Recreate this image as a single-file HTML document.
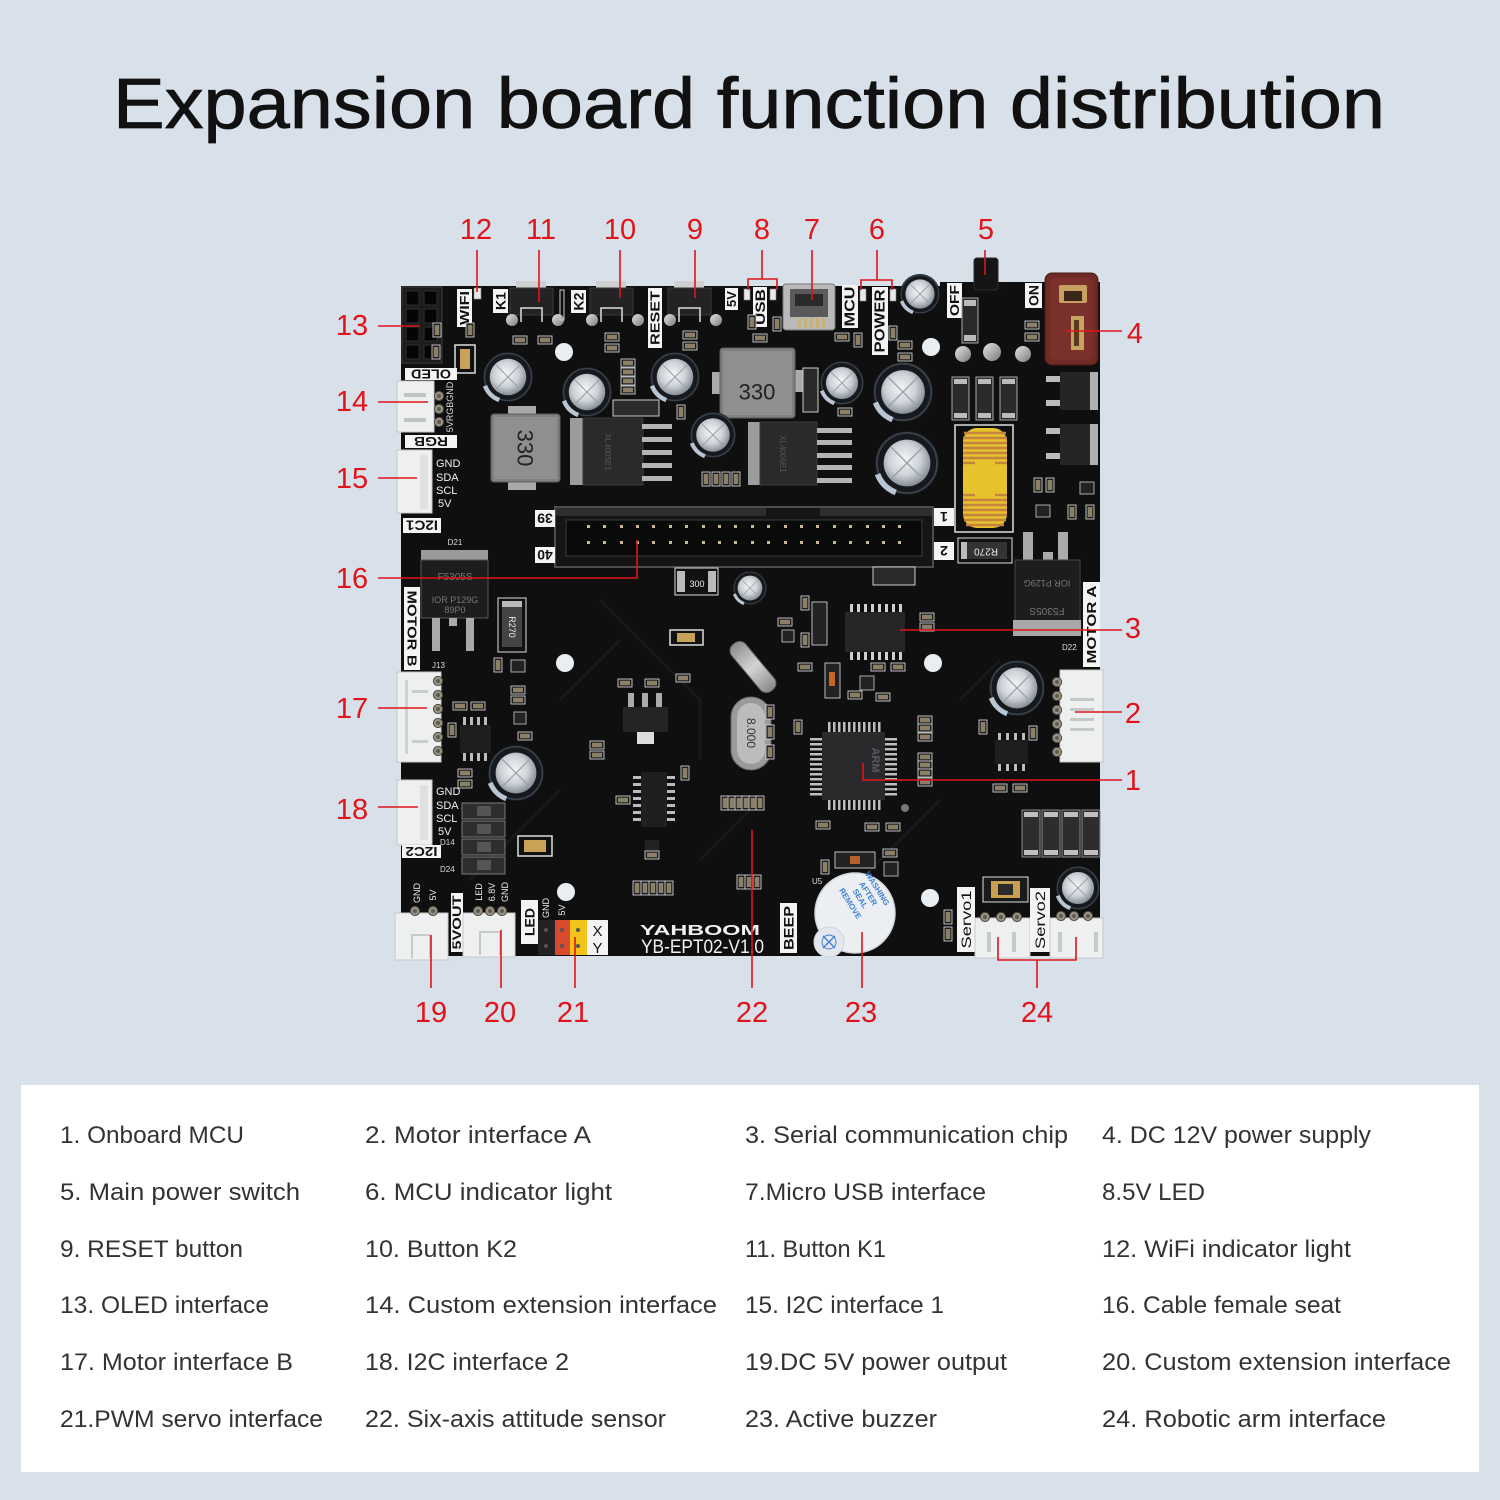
<!DOCTYPE html>
<html><head><meta charset="utf-8"><style>
html,body{margin:0;padding:0;background:#d8e0ea;}
svg{display:block;}
</style></head><body>
<svg width="1500" height="1500" viewBox="0 0 1500 1500" xmlns="http://www.w3.org/2000/svg" font-family="'Liberation Sans', 'DejaVu Sans', sans-serif">
<defs>
<radialGradient id="capg" cx="0.45" cy="0.42" r="0.62"><stop offset="0" stop-color="#f4f6f8"/><stop offset="0.55" stop-color="#cdd2d7"/><stop offset="1" stop-color="#7b838b"/></radialGradient>
<linearGradient id="silver" x1="0" y1="0" x2="1" y2="1"><stop offset="0" stop-color="#e2e2e2"/><stop offset="0.5" stop-color="#b0b0b0"/><stop offset="1" stop-color="#7a7a7a"/></linearGradient>
<linearGradient id="xtal" x1="0" y1="0" x2="1" y2="0"><stop offset="0" stop-color="#8c8c8c"/><stop offset="0.5" stop-color="#d4d4d4"/><stop offset="1" stop-color="#8a8a8a"/></linearGradient>
<g id="capU">
<circle r="10" fill="#16191d"/>
<circle r="9.4" fill="none" stroke="#39414a" stroke-width="0.6"/>
<circle r="7.3" fill="url(#capg)"/>
<path d="M-5,-5 L5,5 M5,-5 L-5,5" stroke="#9aa2aa" stroke-width="0.45"/>
<path d="M -9.2 3.5 A 9.8 9.8 0 0 0 -3.5 9.2" stroke="#b8c5d2" stroke-width="1.8" fill="none"/>
</g>
<g id="rh"><rect x="-7" y="-4" width="14" height="8" fill="#1c1c1c" stroke="#d0d0d0" stroke-width="0.9"/><rect x="-5" y="-2.3" width="10" height="4.6" fill="#8c7f68"/></g>
<g id="rv"><rect x="-4" y="-7" width="8" height="14" fill="#1c1c1c" stroke="#d0d0d0" stroke-width="0.9"/><rect x="-2.3" y="-5" width="4.6" height="10" fill="#8c7f68"/></g>
<g id="pin"><circle r="4.6" fill="#9a9384" stroke="#4a4a44" stroke-width="1"/><circle r="2" fill="#5e5a50"/></g>
</defs>

<rect width="1500" height="1500" fill="#d8e0ea"/>

<!-- Title -->
<text x="113" y="128" font-size="71" fill="#111" stroke="#111" stroke-width="0.8" textLength="1272" lengthAdjust="spacingAndGlyphs">Expansion board function distribution</text>

<!-- ===== BOARD ===== -->
<rect x="401" y="286" width="699" height="670" fill="#0f0f10"/>
<rect x="940" y="282" width="160" height="8" fill="#0f0f10"/>
<g stroke="#18191b" stroke-width="3" fill="none">
<path d="M600 600 L700 700 L700 760"/><path d="M470 880 L560 790"/><path d="M960 700 L1000 660"/>
<path d="M700 860 L760 800"/><path d="M860 880 L940 800"/><path d="M620 640 L560 700"/>
</g>

<!-- Header 13 -->
<rect x="402" y="287" width="40" height="76" fill="#1c1c1c" stroke="#3c3c3c"/>
<g fill="#050505" stroke="#2e2e2e">
<rect x="406" y="291" width="13" height="14"/><rect x="424" y="291" width="13" height="14"/>
<rect x="406" y="309" width="13" height="14"/><rect x="424" y="309" width="13" height="14"/>
<rect x="406" y="327" width="13" height="14"/><rect x="424" y="327" width="13" height="14"/>
<rect x="406" y="345" width="13" height="14"/><rect x="424" y="345" width="13" height="14"/>
</g>
<rect x="455" y="345" width="20" height="28" fill="none" stroke="#ddd" stroke-width="1.5"/>
<rect x="460" y="349" width="10" height="20" fill="#c8a256"/>

<!-- Top labels -->
<g fill="#f4f4f4">
<rect x="457" y="289" width="15" height="38"/><rect x="493" y="289" width="15" height="24"/>
<rect x="571" y="290" width="15" height="23"/><rect x="648" y="288" width="14" height="60"/>
<rect x="725" y="288" width="13" height="22"/><rect x="753" y="287" width="14" height="40"/>
<rect x="842" y="285" width="16" height="43"/><rect x="872" y="287" width="16" height="68"/>
<rect x="947" y="283" width="15" height="35"/><rect x="1025" y="283" width="17" height="25"/>
</g>
<g fill="#111" font-weight="bold" text-anchor="middle" dominant-baseline="central">
<text transform="translate(464.5,308) rotate(-90)" font-size="13" textLength="34" lengthAdjust="spacingAndGlyphs">WIFI</text>
<text transform="translate(500.5,301) rotate(-90)" font-size="14">K1</text>
<text transform="translate(578.5,301.5) rotate(-90)" font-size="14">K2</text>
<text transform="translate(655,318) rotate(-90)" font-size="13" textLength="54" lengthAdjust="spacingAndGlyphs">RESET</text>
<text transform="translate(731.5,299) rotate(-90)" font-size="13">5V</text>
<text transform="translate(760,307) rotate(-90)" font-size="14" textLength="36" lengthAdjust="spacingAndGlyphs">USB</text>
<text transform="translate(850,306.5) rotate(-90)" font-size="15" textLength="40" lengthAdjust="spacingAndGlyphs">MCU</text>
<text transform="translate(880,321) rotate(-90)" font-size="15" textLength="63" lengthAdjust="spacingAndGlyphs">POWER</text>
<text transform="translate(954.5,300.5) rotate(-90)" font-size="13" textLength="31" lengthAdjust="spacingAndGlyphs">OFF</text>
<text transform="translate(1033.5,295.5) rotate(-90)" font-size="14">ON</text>
</g>

<!-- LEDs -->
<g fill="#e8e8e8" stroke="#888" stroke-width="0.6">
<rect x="474" y="288" width="7" height="11"/><rect x="744" y="289" width="6" height="11"/>
<rect x="770" y="289" width="6" height="11"/><rect x="860" y="289" width="6" height="12"/>
<rect x="890" y="289" width="6" height="12"/>
</g>

<!-- Buttons -->
<g>
<rect x="516" y="281" width="30" height="8" rx="2" fill="#cfcfcf"/>
<rect x="510" y="288" width="43" height="27" fill="#232323" stroke="#3a3a3a"/>
<path d="M521 322 V308 H542 V322" fill="none" stroke="#ddd" stroke-width="1.5"/>
<circle cx="512" cy="320" r="6" fill="url(#silver)"/><circle cx="558" cy="320" r="6" fill="url(#silver)"/>
<rect x="560" y="290" width="4" height="30" fill="none" stroke="#ccc"/>
<rect x="596" y="281" width="30" height="8" rx="2" fill="#cfcfcf"/>
<rect x="590" y="288" width="43" height="27" fill="#232323" stroke="#3a3a3a"/>
<path d="M601 322 V308 H622 V322" fill="none" stroke="#ddd" stroke-width="1.5"/>
<circle cx="592" cy="320" r="6" fill="url(#silver)"/><circle cx="638" cy="320" r="6" fill="url(#silver)"/>
<rect x="674" y="281" width="30" height="8" rx="2" fill="#cfcfcf"/>
<rect x="668" y="288" width="43" height="27" fill="#232323" stroke="#3a3a3a"/>
<path d="M679 322 V308 H700 V322" fill="none" stroke="#ddd" stroke-width="1.5"/>
<circle cx="670" cy="320" r="6" fill="url(#silver)"/><circle cx="716" cy="320" r="6" fill="url(#silver)"/>
</g>

<!-- Micro USB -->
<rect x="783" y="284" width="52" height="46" rx="3" fill="#b9b9b9" stroke="#777"/>
<rect x="790" y="289" width="38" height="28" fill="#5a5a5a"/>
<rect x="795" y="294" width="28" height="12" fill="#2a2a2a"/>
<g fill="#c7b27a"><rect x="798" y="318" width="3" height="10"/><rect x="804" y="318" width="3" height="10"/><rect x="810" y="318" width="3" height="10"/><rect x="816" y="318" width="3" height="10"/><rect x="822" y="318" width="3" height="10"/></g>

<!-- Switch 5 -->
<rect x="966" y="283" width="40" height="10" fill="#111"/>
<rect x="974" y="258" width="24" height="32" rx="3" fill="#151515" stroke="#2a2a2a"/>

<!-- Red connector 4 -->
<rect x="1045" y="273" width="53" height="92" rx="7" fill="#6f2a25" stroke="#4a1a18"/>
<rect x="1050" y="278" width="43" height="82" rx="5" fill="#7b312b"/>
<rect x="1059" y="285" width="28" height="18" rx="2" fill="#c8a062"/>
<rect x="1064" y="291" width="18" height="10" fill="#3b2418"/>
<rect x="1071" y="316" width="13" height="34" fill="#c7a35f"/>
<rect x="1074" y="320" width="5" height="26" fill="#5a3a20"/>

<!-- D1, R1 R2 -->
<rect x="962" y="298" width="16" height="45" fill="#2a2a2a" stroke="#aaa"/>
<rect x="964" y="300" width="12" height="6" fill="#bbb"/><rect x="964" y="335" width="12" height="6" fill="#bbb"/>
<use href="#rh" x="1032" y="325"/><use href="#rh" x="1032" y="337"/>

<!-- holes / silver vias -->
<g fill="#e9eef3"><circle cx="564" cy="352" r="9"/><circle cx="931" cy="347" r="9"/><circle cx="565" cy="663" r="9"/><circle cx="933" cy="663" r="9"/><circle cx="566" cy="892" r="9"/><circle cx="930" cy="898" r="9"/></g>
<g fill="url(#silver)"><circle cx="963" cy="354" r="8"/><circle cx="992" cy="352" r="9"/><circle cx="1023" cy="354" r="8"/></g>

<!-- Left side connectors & labels -->
<rect x="405" y="368" width="52" height="12" fill="#f4f4f4"/>
<rect x="405" y="435" width="52" height="13" fill="#f4f4f4"/>
<rect x="403" y="518" width="38" height="15" fill="#f4f4f4"/>
<g fill="#111" font-weight="bold" text-anchor="middle" dominant-baseline="central">
<text transform="translate(431,374) rotate(180)" font-size="13" textLength="40" lengthAdjust="spacingAndGlyphs">OLED</text>
<text transform="translate(431,441.5) rotate(180)" font-size="13" textLength="34" lengthAdjust="spacingAndGlyphs">RGB</text>
<text transform="translate(422,525.5) rotate(180)" font-size="14" textLength="32" lengthAdjust="spacingAndGlyphs">I2C1</text>
</g>
<rect x="397" y="381" width="37" height="51" fill="#eef0ef" stroke="#c6c9c8"/>
<rect x="404" y="393" width="22" height="4" fill="#bfc3c2"/><rect x="404" y="418" width="22" height="4" fill="#bfc3c2"/>
<use href="#pin" x="439" y="396"/><use href="#pin" x="439" y="409"/><use href="#pin" x="439" y="422"/>
<text transform="translate(450,407) rotate(-90)" font-size="9" fill="#ddd" text-anchor="middle" dominant-baseline="central">5VRGBGND</text>

<rect x="397" y="450" width="35" height="63" fill="#eef0ef" stroke="#c6c9c8"/>
<rect x="420" y="455" width="8" height="54" fill="#dfe2e1"/>
<g fill="#f0f0f0" font-size="11"><text x="436" y="467">GND</text><text x="436" y="481">SDA</text><text x="436" y="494">SCL</text><text x="438" y="507">5V</text></g>

<!-- Header 16 -->
<rect x="555" y="507" width="378" height="60" fill="#151515" stroke="#4d4d4d" stroke-width="2"/>
<rect x="556" y="508" width="210" height="8" fill="#2e2e2e"/><rect x="820" y="508" width="112" height="8" fill="#2e2e2e"/>
<rect x="566" y="520" width="356" height="36" fill="#0a0a0a" stroke="#3a3a3a"/>
<g fill="#c9b98f">
<rect x="587" y="525" width="3" height="3"/><rect x="603" y="525" width="3" height="3"/><rect x="620" y="525" width="3" height="3"/><rect x="636" y="525" width="3" height="3"/><rect x="652" y="525" width="3" height="3"/><rect x="669" y="525" width="3" height="3"/><rect x="685" y="525" width="3" height="3"/><rect x="702" y="525" width="3" height="3"/><rect x="718" y="525" width="3" height="3"/><rect x="734" y="525" width="3" height="3"/><rect x="751" y="525" width="3" height="3"/><rect x="767" y="525" width="3" height="3"/><rect x="784" y="525" width="3" height="3"/><rect x="800" y="525" width="3" height="3"/><rect x="816" y="525" width="3" height="3"/><rect x="833" y="525" width="3" height="3"/><rect x="849" y="525" width="3" height="3"/><rect x="866" y="525" width="3" height="3"/><rect x="882" y="525" width="3" height="3"/><rect x="898" y="525" width="3" height="3"/>
<rect x="587" y="541" width="3" height="3"/><rect x="603" y="541" width="3" height="3"/><rect x="620" y="541" width="3" height="3"/><rect x="636" y="541" width="3" height="3"/><rect x="652" y="541" width="3" height="3"/><rect x="669" y="541" width="3" height="3"/><rect x="685" y="541" width="3" height="3"/><rect x="702" y="541" width="3" height="3"/><rect x="718" y="541" width="3" height="3"/><rect x="734" y="541" width="3" height="3"/><rect x="751" y="541" width="3" height="3"/><rect x="767" y="541" width="3" height="3"/><rect x="784" y="541" width="3" height="3"/><rect x="800" y="541" width="3" height="3"/><rect x="816" y="541" width="3" height="3"/><rect x="833" y="541" width="3" height="3"/><rect x="849" y="541" width="3" height="3"/><rect x="866" y="541" width="3" height="3"/><rect x="882" y="541" width="3" height="3"/><rect x="898" y="541" width="3" height="3"/>
</g>
<g fill="#f4f4f4"><rect x="535" y="510" width="20" height="17"/><rect x="535" y="547" width="20" height="16"/><rect x="934" y="508" width="20" height="18"/><rect x="934" y="542" width="20" height="18"/></g>
<g fill="#111" font-weight="bold" text-anchor="middle" dominant-baseline="central" font-size="14">
<text transform="translate(545,518.5) rotate(180)">39</text><text transform="translate(545,555) rotate(180)">40</text>
<text transform="translate(944,517) rotate(180)">1</text><text transform="translate(944,551) rotate(180)">2</text>
</g>

<!-- Inductors -->
<rect x="508" y="406" width="28" height="10" fill="#aaa"/><rect x="508" y="480" width="28" height="10" fill="#aaa"/>
<rect x="491" y="414" width="69" height="68" rx="3" fill="#7f7f7f" stroke="#5e5e5e"/>
<rect x="494" y="417" width="63" height="62" fill="#8f8f8f"/>
<text transform="translate(525,448) rotate(90)" font-size="22" fill="#222" text-anchor="middle" dominant-baseline="central">330</text>
<rect x="712" y="372" width="10" height="22" fill="#aaa"/><rect x="794" y="370" width="10" height="22" fill="#aaa"/>
<rect x="720" y="348" width="75" height="70" rx="3" fill="#7f7f7f" stroke="#5e5e5e"/>
<rect x="723" y="351" width="69" height="64" fill="#8f8f8f"/>
<text x="757" y="392" font-size="22" fill="#222" text-anchor="middle" dominant-baseline="central">330</text>

<!-- XL4005 chips -->
<rect x="613" y="400" width="46" height="16" fill="#2c2c2c" stroke="#ccc"/>
<rect x="570" y="418" width="14" height="67" fill="#9c9c9c"/>
<rect x="583" y="418" width="60" height="67" fill="#2a2a2a" stroke="#3a3a3a"/>
<g fill="#b4b4b4"><rect x="642" y="424" width="30" height="5"/><rect x="642" y="437" width="30" height="5"/><rect x="642" y="450" width="30" height="5"/><rect x="642" y="463" width="30" height="5"/><rect x="642" y="476" width="30" height="5"/></g>
<text transform="translate(605,452) rotate(90)" font-size="8" fill="#555" text-anchor="middle">XL4005E1</text>
<rect x="748" y="422" width="13" height="63" fill="#9c9c9c"/>
<rect x="760" y="422" width="57" height="63" fill="#2a2a2a" stroke="#3a3a3a"/>
<g fill="#b4b4b4"><rect x="817" y="428" width="35" height="5"/><rect x="817" y="440" width="35" height="5"/><rect x="817" y="453" width="35" height="5"/><rect x="817" y="465" width="35" height="5"/><rect x="817" y="478" width="35" height="5"/></g>
<text transform="translate(780,454) rotate(90)" font-size="8" fill="#555" text-anchor="middle">XL4005E1</text>

<!-- D6 -->
<rect x="803" y="368" width="15" height="44" fill="#2a2a2a" stroke="#ccc"/>

<!-- Diodes D37 D34 D31 -->
<g fill="#2b2b2b" stroke="#aaa"><rect x="952" y="377" width="17" height="43"/><rect x="976" y="377" width="17" height="43"/><rect x="1000" y="377" width="17" height="43"/></g>
<g fill="#bbb"><rect x="954" y="379" width="13" height="5"/><rect x="978" y="379" width="13" height="5"/><rect x="1002" y="379" width="13" height="5"/><rect x="954" y="413" width="13" height="5"/><rect x="978" y="413" width="13" height="5"/><rect x="1002" y="413" width="13" height="5"/></g>

<!-- MOSFETs -->
<rect x="1046" y="376" width="14" height="6" fill="#bbb"/><rect x="1046" y="400" width="14" height="6" fill="#bbb"/>
<rect x="1060" y="372" width="31" height="38" fill="#252525"/><rect x="1090" y="372" width="8" height="38" fill="#b0b0b0"/>
<rect x="1046" y="428" width="14" height="6" fill="#bbb"/><rect x="1046" y="453" width="14" height="6" fill="#bbb"/>
<rect x="1060" y="424" width="31" height="41" fill="#252525"/><rect x="1090" y="424" width="8" height="41" fill="#b0b0b0"/>

<!-- Toroid -->
<rect x="955" y="425" width="58" height="107" fill="none" stroke="#ddd" stroke-width="1.5"/>
<rect x="963" y="428" width="44" height="100" rx="14" fill="#e6c22c"/>
<g stroke="#c4843e" stroke-width="2.4">
<line x1="964" y1="433" x2="1006" y2="433"/><line x1="963" y1="438" x2="1007" y2="438"/><line x1="963" y1="443" x2="1007" y2="443"/><line x1="963" y1="448" x2="1007" y2="448"/><line x1="963" y1="453" x2="1007" y2="453"/><line x1="963" y1="458" x2="1007" y2="458"/>
<line x1="963" y1="463" x2="975" y2="463"/><line x1="995" y1="463" x2="1007" y2="463"/>
<line x1="963" y1="495" x2="975" y2="495"/><line x1="995" y1="495" x2="1007" y2="495"/>
<line x1="963" y1="500" x2="1007" y2="500"/><line x1="963" y1="505" x2="1007" y2="505"/><line x1="963" y1="510" x2="1007" y2="510"/><line x1="963" y1="515" x2="1007" y2="515"/><line x1="964" y1="520" x2="1006" y2="520"/><line x1="966" y1="525" x2="1004" y2="525"/>
</g>

<!-- R270 right, D4 -->
<rect x="958" y="538" width="54" height="25" fill="#111" stroke="#ddd"/>
<rect x="963" y="542" width="44" height="17" fill="#333"/><rect x="961" y="542" width="6" height="17" fill="#bbb"/>
<text transform="translate(986,551) rotate(180)" font-size="10" fill="#eee" text-anchor="middle" dominant-baseline="central">R270</text>
<rect x="873" y="567" width="42" height="18" fill="#2a2a2a" stroke="#ccc"/>

<!-- D21 left -->
<rect x="421" y="550" width="67" height="12" fill="#9a9a9a"/>
<rect x="421" y="560" width="67" height="58" fill="#1d1d1d" stroke="#555"/>
<text x="455" y="580" font-size="10" fill="#777" text-anchor="middle">F5305S</text>
<text x="455" y="603" font-size="9" fill="#777" text-anchor="middle">IOR P129G</text>
<text x="455" y="613" font-size="9" fill="#777" text-anchor="middle">89P0</text>
<rect x="432" y="618" width="8" height="33" fill="#a9a9a9"/><rect x="466" y="618" width="8" height="33" fill="#a9a9a9"/><rect x="449" y="618" width="8" height="8" fill="#a9a9a9"/>
<text x="455" y="545" font-size="8" fill="#ddd" text-anchor="middle">D21</text>

<!-- MOTOR B -->
<rect x="404" y="587" width="16" height="83" fill="#f4f4f4"/>
<text transform="translate(412,628.5) rotate(90)" font-size="13" font-weight="bold" fill="#111" text-anchor="middle" dominant-baseline="central" textLength="76" lengthAdjust="spacingAndGlyphs">MOTOR B</text>

<!-- R270 left -->
<rect x="498" y="598" width="28" height="54" fill="#111" stroke="#ddd"/>
<rect x="502" y="603" width="20" height="44" fill="#444"/><rect x="502" y="601" width="20" height="6" fill="#bbb"/>
<text transform="translate(512,627) rotate(90)" font-size="9" fill="#eee" text-anchor="middle" dominant-baseline="central">R270</text>

<!-- Connector 17 -->
<rect x="397" y="672" width="44" height="90" fill="#eef0ef" stroke="#c6c9c8"/>
<rect x="405" y="680" width="3" height="74" fill="#d0d4d3"/><rect x="412" y="690" width="16" height="3" fill="#c8cccb"/><rect x="412" y="740" width="16" height="3" fill="#c8cccb"/>
<use href="#pin" x="438" y="681"/><use href="#pin" x="438" y="695"/><use href="#pin" x="438" y="709"/><use href="#pin" x="438" y="723"/><use href="#pin" x="438" y="737"/><use href="#pin" x="438" y="751"/>
<text x="432" y="668" font-size="8" fill="#ddd">J13</text>

<!-- Connector 18 -->
<rect x="397" y="780" width="35" height="65" fill="#eef0ef" stroke="#c6c9c8"/>
<rect x="420" y="785" width="8" height="55" fill="#dfe2e1"/>
<g fill="#f0f0f0" font-size="11"><text x="436" y="795">GND</text><text x="436" y="809">SDA</text><text x="436" y="822">SCL</text><text x="438" y="835">5V</text></g>
<rect x="402" y="845" width="39" height="13" fill="#f4f4f4"/>
<text transform="translate(421.5,851.5) rotate(180)" font-size="13" font-weight="bold" fill="#111" text-anchor="middle" dominant-baseline="central" textLength="32" lengthAdjust="spacingAndGlyphs">I2C2</text>

<!-- D23 D14 D24 stack -->
<g fill="#2e2e2e" stroke="#7a7a7a"><rect x="462" y="803" width="43" height="16"/><rect x="462" y="821" width="43" height="16"/><rect x="462" y="839" width="43" height="16"/><rect x="462" y="857" width="43" height="17"/></g>
<g fill="#555"><rect x="477" y="806" width="14" height="10"/><rect x="477" y="824" width="14" height="10"/><rect x="477" y="842" width="14" height="10"/><rect x="477" y="860" width="14" height="10"/></g>
<text x="440" y="845" font-size="8" fill="#ddd">D14</text><text x="440" y="872" font-size="8" fill="#ddd">D24</text>

<!-- 8-pin chip near C36 -->
<g fill="#bbb"><rect x="463" y="717" width="3" height="8"/><rect x="470" y="717" width="3" height="8"/><rect x="477" y="717" width="3" height="8"/><rect x="484" y="717" width="3" height="8"/>
<rect x="463" y="753" width="3" height="8"/><rect x="470" y="753" width="3" height="8"/><rect x="477" y="753" width="3" height="8"/><rect x="484" y="753" width="3" height="8"/></g>
<rect x="460" y="725" width="31" height="28" fill="#1e1e1e"/>

<!-- F5 fuse -->
<rect x="518" y="836" width="34" height="20" fill="#111" stroke="#ddd" stroke-width="1.5"/>
<rect x="524" y="840" width="22" height="12" fill="#c8a256"/>

<!-- Capacitors -->
<use href="#capU" transform="translate(508,377) scale(2.5)"/>
<use href="#capU" transform="translate(587,392) scale(2.5)"/>
<use href="#capU" transform="translate(675,377) scale(2.5)"/>
<use href="#capU" transform="translate(713,435) scale(2.3)"/>
<use href="#capU" transform="translate(842,383) scale(2.2)"/>
<use href="#capU" transform="translate(903,392) scale(3.0)"/>
<use href="#capU" transform="translate(907,463) scale(3.2)"/>
<use href="#capU" transform="translate(920,294) scale(2.0)"/>
<use href="#capU" transform="translate(516,773) scale(2.8)"/>
<use href="#capU" transform="translate(1017,688) scale(2.8)"/>
<use href="#capU" transform="translate(1078,888) scale(2.2)"/>
<use href="#capU" transform="translate(750,588) scale(1.7)"/>

<!-- Middle small parts -->
<rect x="675" y="568" width="43" height="27" fill="#111" stroke="#ddd"/>
<rect x="677" y="571" width="8" height="21" fill="#bbb"/><rect x="708" y="571" width="8" height="21" fill="#bbb"/>
<text x="697" y="587" font-size="9" fill="#eee" text-anchor="middle">300</text>
<rect x="670" y="630" width="33" height="15" fill="#111" stroke="#ddd" stroke-width="1.5"/>
<rect x="677" y="633" width="18" height="9" fill="#c8a256"/>
<g fill="#aaa"><rect x="628" y="693" width="6" height="14"/><rect x="642" y="693" width="6" height="14"/><rect x="656" y="693" width="6" height="14"/></g>
<rect x="623" y="707" width="45" height="25" fill="#242424"/>
<rect x="637" y="732" width="17" height="12" fill="#ddd"/>
<g fill="#bbb">
<rect x="633" y="776" width="8" height="3"/><rect x="633" y="783" width="8" height="3"/><rect x="633" y="790" width="8" height="3"/><rect x="633" y="797" width="8" height="3"/><rect x="633" y="804" width="8" height="3"/><rect x="633" y="811" width="8" height="3"/><rect x="633" y="818" width="8" height="3"/>
<rect x="667" y="776" width="8" height="3"/><rect x="667" y="783" width="8" height="3"/><rect x="667" y="790" width="8" height="3"/><rect x="667" y="797" width="8" height="3"/><rect x="667" y="804" width="8" height="3"/><rect x="667" y="811" width="8" height="3"/><rect x="667" y="818" width="8" height="3"/>
</g>
<rect x="641" y="772" width="26" height="55" fill="#1f1f1f"/>
<rect x="645" y="840" width="14" height="12" fill="#222"/>

<!-- Crystals -->
<g transform="translate(753,667) rotate(50)"><rect x="-30" y="-9" width="60" height="18" rx="8" fill="url(#xtal)" stroke="#666"/></g>
<rect x="731" y="697" width="40" height="73" rx="20" fill="#9a9a9a" stroke="#666"/>
<rect x="737" y="703" width="28" height="61" rx="14" fill="#bcbcbc"/>
<text transform="translate(751,733) rotate(90)" font-size="12" fill="#333" text-anchor="middle" dominant-baseline="central">8.000</text>

<!-- MCU -->
<g fill="#bdbdbd">
<rect x="828" y="722" width="2.5" height="10"/><rect x="833" y="722" width="2.5" height="10"/><rect x="838" y="722" width="2.5" height="10"/><rect x="843" y="722" width="2.5" height="10"/><rect x="848" y="722" width="2.5" height="10"/><rect x="853" y="722" width="2.5" height="10"/><rect x="858" y="722" width="2.5" height="10"/><rect x="863" y="722" width="2.5" height="10"/><rect x="868" y="722" width="2.5" height="10"/><rect x="873" y="722" width="2.5" height="10"/><rect x="878" y="722" width="2.5" height="10"/>
<rect x="828" y="800" width="2.5" height="10"/><rect x="833" y="800" width="2.5" height="10"/><rect x="838" y="800" width="2.5" height="10"/><rect x="843" y="800" width="2.5" height="10"/><rect x="848" y="800" width="2.5" height="10"/><rect x="853" y="800" width="2.5" height="10"/><rect x="858" y="800" width="2.5" height="10"/><rect x="863" y="800" width="2.5" height="10"/><rect x="868" y="800" width="2.5" height="10"/><rect x="873" y="800" width="2.5" height="10"/><rect x="878" y="800" width="2.5" height="10"/>
<rect x="810" y="738" width="12" height="2.5"/><rect x="810" y="743" width="12" height="2.5"/><rect x="810" y="748" width="12" height="2.5"/><rect x="810" y="753" width="12" height="2.5"/><rect x="810" y="758" width="12" height="2.5"/><rect x="810" y="763" width="12" height="2.5"/><rect x="810" y="768" width="12" height="2.5"/><rect x="810" y="773" width="12" height="2.5"/><rect x="810" y="778" width="12" height="2.5"/><rect x="810" y="783" width="12" height="2.5"/><rect x="810" y="788" width="12" height="2.5"/><rect x="810" y="793" width="12" height="2.5"/>
<rect x="885" y="738" width="12" height="2.5"/><rect x="885" y="743" width="12" height="2.5"/><rect x="885" y="748" width="12" height="2.5"/><rect x="885" y="753" width="12" height="2.5"/><rect x="885" y="758" width="12" height="2.5"/><rect x="885" y="763" width="12" height="2.5"/><rect x="885" y="768" width="12" height="2.5"/><rect x="885" y="773" width="12" height="2.5"/><rect x="885" y="778" width="12" height="2.5"/><rect x="885" y="783" width="12" height="2.5"/><rect x="885" y="788" width="12" height="2.5"/><rect x="885" y="793" width="12" height="2.5"/>
</g>
<rect x="822" y="732" width="63" height="68" fill="#2a2a2c"/>
<text transform="translate(872,760) rotate(90)" font-size="11" fill="#5a5a5e" text-anchor="middle" font-weight="bold">ARM</text>

<!-- U13 serial chip -->
<g fill="#cfcfcf">
<rect x="850" y="604" width="3" height="8"/><rect x="857" y="604" width="3" height="8"/><rect x="864" y="604" width="3" height="8"/><rect x="871" y="604" width="3" height="8"/><rect x="878" y="604" width="3" height="8"/><rect x="885" y="604" width="3" height="8"/><rect x="892" y="604" width="3" height="8"/><rect x="899" y="604" width="3" height="8"/>
<rect x="850" y="652" width="3" height="8"/><rect x="857" y="652" width="3" height="8"/><rect x="864" y="652" width="3" height="8"/><rect x="871" y="652" width="3" height="8"/><rect x="878" y="652" width="3" height="8"/><rect x="885" y="652" width="3" height="8"/><rect x="892" y="652" width="3" height="8"/><rect x="899" y="652" width="3" height="8"/>
</g>
<rect x="845" y="612" width="60" height="40" fill="#262626"/>
<rect x="812" y="602" width="15" height="43" fill="#222" stroke="#bbb"/>
<rect x="825" y="663" width="15" height="35" fill="#222" stroke="#bbb"/><rect x="829" y="672" width="6" height="14" fill="#c8642a"/>
<rect x="835" y="852" width="40" height="16" fill="#222" stroke="#bbb"/><rect x="850" y="856" width="10" height="8" fill="#b8602c"/>

<!-- D22 right -->
<rect x="1023" y="532" width="10" height="28" fill="#aaa"/><rect x="1058" y="532" width="10" height="28" fill="#aaa"/><rect x="1043" y="552" width="10" height="10" fill="#aaa"/>
<rect x="1015" y="560" width="65" height="62" fill="#1d1d1d" stroke="#444"/>
<rect x="1013" y="620" width="68" height="16" fill="#a8a8a8"/>
<text transform="translate(1047,580) rotate(180)" font-size="9" fill="#777" text-anchor="middle">IOR P129G</text>
<text transform="translate(1047,608) rotate(180)" font-size="10" fill="#777" text-anchor="middle">F5305S</text>
<text x="1062" y="650" font-size="8" fill="#ddd">D22</text>

<!-- MOTOR A -->
<rect x="1083" y="582" width="17" height="85" fill="#f4f4f4"/>
<text transform="translate(1091.5,624.5) rotate(-90)" font-size="13" font-weight="bold" fill="#111" text-anchor="middle" dominant-baseline="central" textLength="78" lengthAdjust="spacingAndGlyphs">MOTOR A</text>

<!-- Connector 2 -->
<rect x="1060" y="670" width="43" height="92" fill="#eef0ef" stroke="#c6c9c8"/>
<g fill="#c5c9c8"><rect x="1070" y="698" width="24" height="3"/><rect x="1070" y="708" width="24" height="3"/><rect x="1070" y="718" width="24" height="3"/><rect x="1070" y="728" width="24" height="3"/></g>
<use href="#pin" x="1057" y="682"/><use href="#pin" x="1057" y="696"/><use href="#pin" x="1057" y="710"/><use href="#pin" x="1057" y="724"/><use href="#pin" x="1057" y="738"/><use href="#pin" x="1057" y="752"/>

<!-- U11 -->
<g fill="#bbb"><rect x="998" y="733" width="3" height="8"/><rect x="1006" y="733" width="3" height="8"/><rect x="1014" y="733" width="3" height="8"/><rect x="1022" y="733" width="3" height="8"/>
<rect x="998" y="763" width="3" height="8"/><rect x="1006" y="763" width="3" height="8"/><rect x="1014" y="763" width="3" height="8"/><rect x="1022" y="763" width="3" height="8"/></g>
<rect x="995" y="740" width="33" height="24" fill="#1e1e1e"/>

<!-- 4 diodes bottom right -->
<g fill="#2d2d2d" stroke="#8a8a8a"><rect x="1022" y="810" width="18" height="47"/><rect x="1042" y="810" width="18" height="47"/><rect x="1062" y="810" width="18" height="47"/><rect x="1082" y="810" width="18" height="47"/></g>
<g fill="#c0c0c0"><rect x="1024" y="812" width="14" height="5"/><rect x="1044" y="812" width="14" height="5"/><rect x="1064" y="812" width="14" height="5"/><rect x="1084" y="812" width="14" height="5"/><rect x="1024" y="850" width="14" height="5"/><rect x="1044" y="850" width="14" height="5"/><rect x="1064" y="850" width="14" height="5"/><rect x="1084" y="850" width="14" height="5"/></g>

<!-- F6 -->
<rect x="983" y="877" width="45" height="25" fill="#1a1a1a" stroke="#ddd"/>
<rect x="991" y="881" width="29" height="17" fill="#c8a050"/><rect x="998" y="884" width="15" height="11" fill="#2a2a2a"/>

<!-- SMD scatter -->
<use href="#rv" x="437" y="330"/><use href="#rv" x="436" y="352"/><use href="#rv" x="470" y="330"/>
<use href="#rh" x="520" y="340"/><use href="#rh" x="545" y="340"/>
<use href="#rh" x="612" y="337"/><use href="#rh" x="612" y="348"/>
<use href="#rh" x="690" y="335"/><use href="#rh" x="690" y="346"/>
<use href="#rv" x="752" y="322"/><use href="#rv" x="777" y="324"/><use href="#rh" x="760" y="338"/>
<use href="#rh" x="842" y="337"/><use href="#rv" x="858" y="340"/><use href="#rv" x="893" y="333"/>
<use href="#rh" x="905" y="345"/><use href="#rh" x="905" y="357"/>
<use href="#rh" x="628" y="363"/><use href="#rh" x="628" y="372"/><use href="#rh" x="628" y="381"/><use href="#rh" x="628" y="390"/>
<use href="#rv" x="681" y="412"/>
<use href="#rv" x="706" y="479"/><use href="#rv" x="716" y="479"/><use href="#rv" x="726" y="479"/><use href="#rv" x="736" y="479"/>
<use href="#rh" x="845" y="412"/>
<use href="#rv" x="1038" y="485"/><use href="#rv" x="1050" y="485"/><use href="#rv" x="1072" y="512"/><use href="#rv" x="1090" y="512"/>
<rect x="1080" y="482" width="14" height="12" fill="#222" stroke="#aaa"/><rect x="1036" y="505" width="14" height="12" fill="#222" stroke="#aaa"/>
<use href="#rh" x="460" y="706"/><use href="#rh" x="478" y="706"/><use href="#rv" x="452" y="730"/>
<use href="#rh" x="465" y="773"/><use href="#rh" x="465" y="784"/>
<use href="#rv" x="498" y="665"/><rect x="511" y="660" width="14" height="12" fill="#222" stroke="#aaa"/>
<use href="#rh" x="518" y="690"/><use href="#rh" x="518" y="700"/><use href="#rh" x="525" y="736"/><rect x="514" y="712" width="12" height="12" fill="#222" stroke="#aaa"/>
<use href="#rh" x="597" y="745"/><use href="#rh" x="597" y="755"/>
<use href="#rh" x="625" y="683"/><use href="#rh" x="652" y="683"/><use href="#rh" x="683" y="678"/>
<use href="#rv" x="685" y="773"/><use href="#rh" x="652" y="855"/><use href="#rh" x="623" y="800"/>
<use href="#rv" x="637" y="888"/><use href="#rv" x="645" y="888"/><use href="#rv" x="653" y="888"/><use href="#rv" x="661" y="888"/><use href="#rv" x="669" y="888"/>
<use href="#rv" x="725" y="803"/><use href="#rv" x="732" y="803"/><use href="#rv" x="739" y="803"/><use href="#rv" x="746" y="803"/><use href="#rv" x="753" y="803"/><use href="#rv" x="760" y="803"/>
<use href="#rv" x="741" y="882"/><use href="#rv" x="749" y="882"/><use href="#rv" x="757" y="882"/>
<use href="#rh" x="785" y="622"/><rect x="782" y="630" width="12" height="12" fill="#222" stroke="#aaa"/>
<use href="#rv" x="805" y="603"/><use href="#rv" x="805" y="640"/><use href="#rh" x="805" y="667"/>
<use href="#rh" x="927" y="617"/><use href="#rh" x="927" y="627"/>
<use href="#rh" x="878" y="667"/><use href="#rh" x="898" y="667"/><rect x="860" y="676" width="14" height="14" fill="#222" stroke="#aaa"/>
<use href="#rh" x="855" y="695"/><use href="#rh" x="883" y="697"/>
<use href="#rv" x="798" y="727"/>
<use href="#rv" x="770" y="712"/><use href="#rv" x="770" y="732"/><use href="#rv" x="770" y="752"/>
<use href="#rh" x="925" y="720"/><use href="#rh" x="925" y="728"/><use href="#rh" x="925" y="737"/>
<use href="#rh" x="925" y="757"/><use href="#rh" x="925" y="765"/><use href="#rh" x="925" y="773"/><use href="#rh" x="925" y="782"/>
<use href="#rv" x="983" y="727"/><use href="#rv" x="1033" y="733"/>
<use href="#rh" x="1000" y="788"/><use href="#rh" x="1020" y="788"/>
<use href="#rh" x="823" y="825"/><use href="#rh" x="872" y="827"/><use href="#rh" x="893" y="827"/>
<circle cx="905" cy="808" r="4" fill="#777"/>
<use href="#rv" x="825" y="867"/><use href="#rh" x="890" y="853"/><rect x="884" y="862" width="14" height="14" fill="#222" stroke="#aaa"/>
<use href="#rv" x="948" y="917"/><use href="#rv" x="948" y="934"/>

<!-- Bottom connectors & labels -->
<rect x="451" y="893" width="12" height="59" fill="#f4f4f4"/>
<text transform="translate(457,922.5) rotate(-90)" font-size="12" font-weight="bold" fill="#111" text-anchor="middle" dominant-baseline="central" textLength="54" lengthAdjust="spacingAndGlyphs">5VOUT</text>
<rect x="395" y="913" width="53" height="47" fill="#eef0ef" stroke="#c6c9c8"/>
<path d="M412 958 V935 H430 V958" fill="none" stroke="#c5c9c8" stroke-width="2"/>
<use href="#pin" x="415" y="911"/><use href="#pin" x="433" y="911"/>
<g fill="#eee" font-size="9" text-anchor="middle" dominant-baseline="central">
<text transform="translate(417,893) rotate(-90)">GND</text><text transform="translate(433,895) rotate(-90)">5V</text>
<text transform="translate(479,892) rotate(-90)">LED</text><text transform="translate(492,892) rotate(-90)">6.8V</text><text transform="translate(505,892) rotate(-90)">GND</text>
<text transform="translate(546,908) rotate(-90)">GND</text><text transform="translate(562,910) rotate(-90)">5V</text>
</g>
<rect x="463" y="913" width="52" height="44" fill="#eef0ef" stroke="#c6c9c8"/>
<path d="M480 955 V932 H500 V955" fill="none" stroke="#c5c9c8" stroke-width="2"/>
<use href="#pin" x="478" y="911"/><use href="#pin" x="490" y="911"/><use href="#pin" x="502" y="911"/>
<rect x="521" y="900" width="17" height="44" fill="#f4f4f4"/>
<text transform="translate(529.5,922) rotate(-90)" font-size="14" font-weight="bold" fill="#111" text-anchor="middle" dominant-baseline="central">LED</text>
<rect x="538" y="920" width="17" height="35" fill="#222"/>
<rect x="555" y="920" width="15" height="35" fill="#d94b2e"/>
<rect x="570" y="920" width="17" height="35" fill="#f2c41a"/>
<g fill="#555"><circle cx="546" cy="930" r="2"/><circle cx="546" cy="946" r="2"/><circle cx="562" cy="930" r="2"/><circle cx="562" cy="946" r="2"/><circle cx="578" cy="930" r="2"/><circle cx="578" cy="946" r="2"/></g>
<rect x="587" y="920" width="21" height="35" fill="#f4f4f4"/>
<text x="597.5" y="936" font-size="15" fill="#111" text-anchor="middle">X</text>
<text x="597.5" y="953" font-size="15" fill="#111" text-anchor="middle">Y</text>

<text x="640" y="935" font-size="15" font-weight="bold" fill="#f2f2f2" textLength="120" lengthAdjust="spacingAndGlyphs">YAHBOOM</text>
<text x="641" y="953" font-size="19" fill="#f2f2f2" textLength="123" lengthAdjust="spacingAndGlyphs">YB-EPT02-V1.0</text>

<rect x="780" y="903" width="17" height="50" fill="#f4f4f4"/>
<text transform="translate(788.5,928) rotate(-90)" font-size="14" font-weight="bold" fill="#111" text-anchor="middle" dominant-baseline="central" textLength="44" lengthAdjust="spacingAndGlyphs">BEEP</text>

<!-- Buzzer -->
<circle cx="855" cy="913" r="40" fill="#eceff2" stroke="#cfd5da" stroke-width="1.5"/>
<circle cx="829" cy="942" r="15" fill="#e4e8ec" stroke="#cfd5da"/>
<path d="M823 936 L835 948 M835 936 L823 948" stroke="#3f7fd6" stroke-width="1.3"/>
<circle cx="829" cy="942" r="7" fill="none" stroke="#3f7fd6" stroke-width="1"/>
<g fill="#3f7fd6" font-size="8" font-weight="bold" text-anchor="middle">
<text transform="translate(848,905) rotate(58)">REMOVE</text>
<text transform="translate(858,900) rotate(58)">SEAL</text>
<text transform="translate(866,895) rotate(58)">AFTER</text>
<text transform="translate(875,890) rotate(58)">WASHING</text>
</g>
<text x="812" y="884" font-size="8" fill="#ddd">U5</text>

<!-- Servos -->
<rect x="957" y="887" width="18" height="65" fill="#f4f4f4"/>
<text transform="translate(966,919.5) rotate(-90)" font-size="14" fill="#111" text-anchor="middle" dominant-baseline="central" textLength="58" lengthAdjust="spacingAndGlyphs">Servo1</text>
<rect x="975" y="918" width="55" height="40" fill="#eef0ef" stroke="#c6c9c8"/>
<g fill="#c5c9c8"><rect x="987" y="932" width="4" height="20"/><rect x="1012" y="932" width="4" height="20"/></g>
<use href="#pin" x="985" y="917"/><use href="#pin" x="1001" y="917"/><use href="#pin" x="1017" y="917"/>
<rect x="1030" y="888" width="20" height="64" fill="#f4f4f4"/>
<text transform="translate(1040,920) rotate(-90)" font-size="14" fill="#111" text-anchor="middle" dominant-baseline="central" textLength="58" lengthAdjust="spacingAndGlyphs">Servo2</text>
<rect x="1050" y="918" width="53" height="40" fill="#eef0ef" stroke="#c6c9c8"/>
<g fill="#c5c9c8"><rect x="1058" y="932" width="4" height="20"/><rect x="1094" y="932" width="4" height="20"/></g>
<use href="#pin" x="1061" y="916"/><use href="#pin" x="1074" y="916"/><use href="#pin" x="1088" y="916"/>

<!-- ===== RED LEADERS ===== -->
<g stroke="#e0141a" stroke-width="1.6" fill="none">
<path d="M477 250 V292"/><path d="M539 250 V302"/><path d="M620 250 V298"/><path d="M695 250 V298"/>
<path d="M762 250 V279 M748 290 V279 H777 V290"/>
<path d="M812 250 V300"/>
<path d="M877 250 V280 M861 290 V280 H892 V290"/>
<path d="M985 250 V275"/>
<path d="M1066 331 H1122"/>
<path d="M378 326 H420"/><path d="M378 402 H428"/><path d="M378 478 H417"/>
<path d="M378 578 H637 V540"/>
<path d="M378 708 H427"/><path d="M378 807 H418"/>
<path d="M900 630 H1122"/><path d="M1075 712 H1122"/><path d="M863 763 V780 H1122"/>
<path d="M431 935 V988"/><path d="M501 930 V988"/><path d="M575 937 V988"/>
<path d="M752 830 V988"/><path d="M862 932 V988"/>
<path d="M1037 960 V988 M998 937 V960 H1076 V937"/>
</g>

<!-- ===== RED NUMBERS ===== -->
<g fill="#e0141a" font-size="29" text-anchor="middle">
<text x="476" y="239">12</text><text x="541" y="239">11</text><text x="620" y="239">10</text><text x="695" y="239">9</text>
<text x="762" y="239">8</text><text x="812" y="239">7</text><text x="877" y="239">6</text><text x="986" y="239">5</text>
<text x="352" y="335">13</text><text x="352" y="411">14</text><text x="352" y="488">15</text><text x="352" y="588">16</text>
<text x="352" y="718">17</text><text x="352" y="819">18</text>
<text x="1135" y="343">4</text><text x="1133" y="638">3</text><text x="1133" y="723">2</text><text x="1133" y="790">1</text>
<text x="431" y="1022">19</text><text x="500" y="1022">20</text><text x="573" y="1022">21</text>
<text x="752" y="1022">22</text><text x="861" y="1022">23</text><text x="1037" y="1022">24</text>
</g>

<!-- ===== TABLE ===== -->
<rect x="21" y="1085" width="1458" height="387" fill="#ffffff"/>
<g fill="#333" font-size="24" lengthAdjust="spacingAndGlyphs">
<text x="60" y="1143" textLength="184" lengthAdjust="spacingAndGlyphs">1. Onboard MCU</text>
<text x="365" y="1143" textLength="226" lengthAdjust="spacingAndGlyphs">2. Motor interface A</text>
<text x="745" y="1143" textLength="323" lengthAdjust="spacingAndGlyphs">3. Serial communication chip</text>
<text x="1102" y="1143" textLength="269" lengthAdjust="spacingAndGlyphs">4. DC 12V power supply</text>

<text x="60" y="1200" textLength="240" lengthAdjust="spacingAndGlyphs">5. Main power switch</text>
<text x="365" y="1200" textLength="247" lengthAdjust="spacingAndGlyphs">6. MCU indicator light</text>
<text x="745" y="1200" textLength="241" lengthAdjust="spacingAndGlyphs">7.Micro USB interface</text>
<text x="1102" y="1200" textLength="103" lengthAdjust="spacingAndGlyphs">8.5V LED</text>

<text x="60" y="1257" textLength="183" lengthAdjust="spacingAndGlyphs">9. RESET button</text>
<text x="365" y="1257" textLength="152" lengthAdjust="spacingAndGlyphs">10. Button K2</text>
<text x="745" y="1257" textLength="141" lengthAdjust="spacingAndGlyphs">11. Button K1</text>
<text x="1102" y="1257" textLength="249" lengthAdjust="spacingAndGlyphs">12. WiFi indicator light</text>

<text x="60" y="1313" textLength="209" lengthAdjust="spacingAndGlyphs">13. OLED interface</text>
<text x="365" y="1313" textLength="352" lengthAdjust="spacingAndGlyphs">14. Custom extension interface</text>
<text x="745" y="1313" textLength="199" lengthAdjust="spacingAndGlyphs">15. I2C interface 1</text>
<text x="1102" y="1313" textLength="239" lengthAdjust="spacingAndGlyphs">16. Cable female seat</text>

<text x="60" y="1370" textLength="233" lengthAdjust="spacingAndGlyphs">17. Motor interface B</text>
<text x="365" y="1370" textLength="204" lengthAdjust="spacingAndGlyphs">18. I2C interface 2</text>
<text x="745" y="1370" textLength="262" lengthAdjust="spacingAndGlyphs">19.DC 5V power output</text>
<text x="1102" y="1370" textLength="349" lengthAdjust="spacingAndGlyphs">20. Custom extension interface</text>

<text x="60" y="1427" textLength="263" lengthAdjust="spacingAndGlyphs">21.PWM servo interface</text>
<text x="365" y="1427" textLength="301" lengthAdjust="spacingAndGlyphs">22. Six-axis attitude sensor</text>
<text x="745" y="1427" textLength="192" lengthAdjust="spacingAndGlyphs">23. Active buzzer</text>
<text x="1102" y="1427" textLength="284" lengthAdjust="spacingAndGlyphs">24. Robotic arm interface</text>
</g>
</svg>
</body></html>
